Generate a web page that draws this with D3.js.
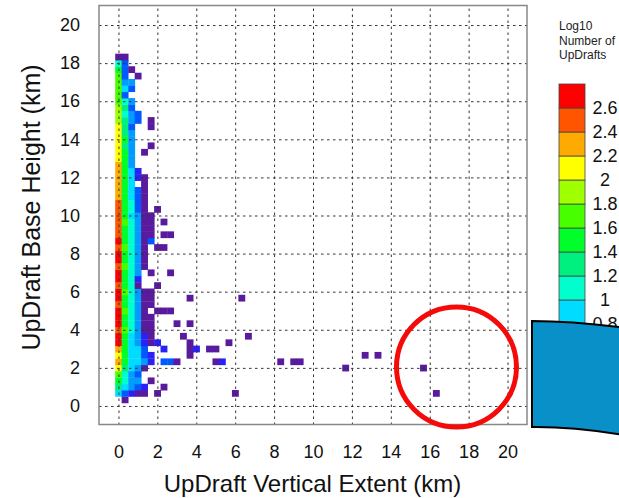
<!DOCTYPE html>
<html>
<head>
<meta charset="utf-8">
<script src="https://cdn.jsdelivr.net/npm/d3@7"></script>
<style>
  body { margin: 0; background: #fff; }
  svg { display: block; font-family: "Liberation Sans", Arial, Helvetica, sans-serif; }
</style>
</head>
<body>
<svg id="chart" width="619" height="498"></svg>
<script>
// row centres (updraft base height, km)
const baseHeight = [0.33, 0.67, 1, 1.33, 1.67, 2, 2.33, 2.67, 3, 3.33, 3.67,
  4, 4.33, 4.67, 5, 5.33, 5.67, 6, 6.33, 6.67, 7, 7.33,
  7.67, 8, 8.33, 8.67, 9, 9.33, 9.67, 10, 10.33, 10.67, 11,
  11.33, 11.67, 12, 12.33, 12.67, 13, 13.33, 13.67, 14, 14.33,
  14.67, 15, 15.33, 15.67, 16, 16.33, 16.67, 17, 17.33, 17.67, 18, 18.33];

// dense columns (vertical extent, km)
const extentCols = [0, 0.33, 0.67, 1, 1.33, 1.67];

// log10 number of updrafts, one value per baseHeight
const colLog0 = [null, 0.9, 1.2, 1.5, 1.7, 2.05, 2.3, 2.1, 2.2, 2.7, 2.7,
  2.5, 2.7, 2.7, 2.7, 2.5, 2.7, 2.7, 2.5, 2.7, 2.7, 2.5,
  2.7, 2.7, 2.5, 2.7, 2.5, 2.5, 2.45, 2.5, 2.45, 2.5, 2.3,
  2.3, 2.3, 2.25, 2.3, 2.2, 2.1, 2.1, 2.1, 2.0, 2.1, 2.0,
  1.9, 1.9, 1.9, 1.7, 1.7, 1.6, 1.7, 1.6, 1.5, 1.1, 0];
const colLog1 = [0, 0.5, 0.9, 1.05, 1.1, 1.3, 1.5, 1.5, 1.45, 1.5, 1.5,
  1.7, 1.5, 1.5, 1.7, 1.5, 1.5, 1.7, 1.5, 1.5, 1.5, 1.7,
  1.5, 1.5, 1.7, 1.5, 1.5, 1.5, 1.7, 1.5, 1.5, 1.5, 1.5,
  1.5, 1.5, 1.5, 1.4, 1.5, 1.5, 1.5, 1.3, 1.5, 1.3, 1.3,
  1.3, 1.0, 1.2, 1.0, 0.5, 0.9, 0.7, 0.5, 0.5, 0.5, 0];
const colLog2 = [null, 0.3, 0.6, 0.7, 0.75, 0.9, 0.9, 0.9, 0.95, 0.9, 0.95,
  1.0, 1.0, 1.1, 1.0, 1.0, 1.1, 1.0, 1.0, 1.1, 1.0, 1.0,
  1.1, 1.0, 1.0, 1.0, 1.1, 1.0, 1.0, 0.9, 1.0, 1.0, 0.9,
  0.9, 0.9, 0.9, 0.85, 0.7, 0.6, 0.7, 0.6, 0.6, 0.7, 0.5,
  0.6, 0.6, 0.5, 0.7, null, 0.4, 0.6, null, 0, null, null];
const colLog3 = [null, 0, 0.5, 0.6, 0.5, 0.6, 0.85, 0.9, 0.9, 0.7, 0.7,
  0.6, 0.6, 0.6, 0.7, 0.6, 0.6, 0.7, 0, 0.3, 0.6, 0.6,
  0.6, 0.7, 0.6, 0.6, 0.7, 0.6, 0.6, 0.6, 0.5, 0.5, 0.5,
  0.5, null, 0.3, 0.3, null, null, null, null, null, null, null,
  0.5, 0.5, null, null, null, null, null, 0, null, null, null];
const colLog4 = [null, 0, 0.3, null, null, 0, 0.6, 0.5, 0.5, 0.3, 0.3,
  0, 0, 0, 0, 0, 0, 0, null, null, null, 0,
  0, 0, 0, 0, 0, 0, 0, 0, 0, 0, 0,
  0, 0, 0, null, null, null, 0, null, null, null, null,
  null, null, null, null, null, null, null, null, null, null, null];
const colLog5 = [null, null, null, 0, null, null, 0.3, 0.3, null, 0, 0,
  0, 0, 0, null, 0, 0, 0, null, null, 0, null,
  null, null, null, 0.5, 0, 0, 0, 0, null, null, null,
  null, null, null, null, null, null, null, 0, null, null, 0,
  0, null, null, null, null, null, null, null, null, null, null];
const columns = [colLog0, colLog1, colLog2, colLog3, colLog4, colLog5];

// scattered cells: [vertical extent km, base height km, log10 count]
const sparseCells = [
  [2.0, 0.67, 0], [2.33, 1.0, 0], [6.0, 0.67, 0], [16.33, 0.67, 0],
  [2.0, 3.33, 0.3], [2.33, 3.0, 0.3], [2.33, 2.33, 0.5], [2.67, 2.33, 0.5],
  [3.0, 2.33, 0], [5.0, 2.33, 0], [5.33, 2.33, 0.3], [8.33, 2.33, 0],
  [9.0, 2.33, 0], [9.33, 2.33, 0], [11.67, 2.0, 0], [15.67, 2.0, 0],
  [12.67, 2.67, 0], [13.33, 2.67, 0], [3.67, 2.67, 0], [3.67, 3.0, 0],
  [3.67, 3.33, 0], [4.0, 3.0, 0.3], [4.67, 3.0, 0], [5.0, 3.0, 0],
  [5.67, 3.33, 0], [6.67, 3.67, 0], [3.33, 3.67, 0], [3.0, 4.33, 0],
  [3.67, 4.33, 0], [2.0, 5.0, 0], [2.33, 5.0, 0], [2.67, 5.0, 0],
  [3.67, 5.67, 0], [6.33, 5.67, 0], [2.0, 6.33, 0], [2.67, 7.0, 0],
  [2.0, 8.33, 0], [2.33, 8.33, 0], [2.33, 9.0, 0], [2.67, 9.0, 0],
  [2.33, 9.67, 0], [2.0, 10.33, 0]
];

const xTicks = [0, 2, 4, 6, 8, 10, 12, 14, 16, 18, 20];
const yTicks = [0, 2, 4, 6, 8, 10, 12, 14, 16, 18, 20];
const legendLevels = [0.2, 0.4, 0.6, 0.8, 1, 1.2, 1.4, 1.6, 1.8, 2, 2.2, 2.4, 2.6];
const legendColors = ["#5a1a9e", "#2a22f5", "#0058ff", "#009cff", "#00dcff", "#00ffcc",
  "#00f080", "#00ff2a", "#48ff00", "#a0ff00", "#ffff00", "#ffaa00", "#ff5500", "#ff0000"];

const svg = d3.select("#chart");
const x = d3.scaleLinear().domain([-1, 21]).range([99, 527]);
const y = d3.scaleLinear().domain([-1, 21]).range([425, 6]);
const color = d3.scaleThreshold().domain(legendLevels).range(legendColors);
const half = 1 / 6;

let cells = [];
extentCols.forEach((ex, j) => {
  columns[j].forEach((v, i) => {
    if (v !== null) cells.push([ex, baseHeight[i], v]);
  });
});
cells = cells.concat(sparseCells);

svg.append("g").selectAll("rect").data(cells).join("rect")
  .attr("x", d => x(d[0] - half))
  .attr("y", d => y(d[1] + half))
  .attr("width", d => x(d[0] + half) - x(d[0] - half) + 0.4)
  .attr("height", d => y(d[1] - half) - y(d[1] + half) + 0.4)
  .attr("fill", d => color(d[2]));

// grid + tick labels
let xAxis = svg.append("g").attr("transform", `translate(0,425)`)
  .call(d3.axisBottom(x).tickValues(xTicks).tickSize(-419).tickPadding(20).tickFormat(d3.format("d")));
let yAxis = svg.append("g").attr("transform", `translate(99,0)`)
  .call(d3.axisLeft(y).tickValues(yTicks).tickSize(-428).tickPadding(19).tickFormat(d3.format("d")));
[xAxis, yAxis].forEach(a => {
  a.select(".domain").remove();
  a.selectAll("line").attr("stroke", "#333").attr("stroke-dasharray", "2.5,3.5");
  a.selectAll("text").attr("font-size", 18).attr("fill", "#111")
    .style("font-family", '"Liberation Sans", Arial, sans-serif');
});

svg.append("rect").attr("x", 99).attr("y", 5.5).attr("width", 428).attr("height", 419)
  .attr("fill", "none").attr("stroke", "#888").attr("stroke-width", 1.5);

svg.append("text").attr("x", 312.5).attr("y", 491.5).attr("text-anchor", "middle")
  .attr("font-size", 24).attr("fill", "#111").text("UpDraft Vertical Extent (km)");
svg.append("text").attr("transform", "translate(39.5,207.5) rotate(-90)").attr("text-anchor", "middle")
  .attr("font-size", 25).attr("fill", "#111").text("UpDraft Base Height (km)");

// colour bar
const legendY = d3.scaleLinear().domain([0, 2.8]).range([420, 84]);
const lower = [0].concat(legendLevels);
const upper = legendLevels.concat([2.8]);
const legend = svg.append("g");
legend.selectAll("rect").data(legendColors).join("rect")
  .attr("x", 559).attr("width", 26)
  .attr("y", (d, i) => legendY(upper[i]))
  .attr("height", (d, i) => legendY(lower[i]) - legendY(upper[i]))
  .attr("fill", d => d).attr("stroke", "#444").attr("stroke-width", 0.8);
legend.selectAll("text.lvl").data(legendLevels).join("text").attr("class", "lvl")
  .attr("x", 605).attr("y", d => legendY(d)).attr("dy", "0.36em")
  .attr("text-anchor", "middle").attr("font-size", 18).attr("fill", "#111")
  .text(d => String(d));
const legendTitle = ["Log10", "Number of", "UpDrafts"];
legend.selectAll("text.ttl").data(legendTitle).join("text").attr("class", "ttl")
  .attr("x", 559).attr("y", (d, i) => 30 + i * 14.5)
  .attr("font-size", 12).attr("fill", "#222").text(d => d);

// annotation circle
svg.append("circle").attr("cx", 456.5).attr("cy", 367).attr("r", 60)
  .attr("fill", "none").attr("stroke", "#f50a0a").attr("stroke-width", 5);

// overlapping blue shape
svg.append("path")
  .attr("d", "M532,321 Q575,321 630,328.5 L630,436 Q575,426.5 532,427 Z")
  .attr("fill", "#0a90c8").attr("stroke", "#000").attr("stroke-width", 2);
</script>
</body>
</html>
